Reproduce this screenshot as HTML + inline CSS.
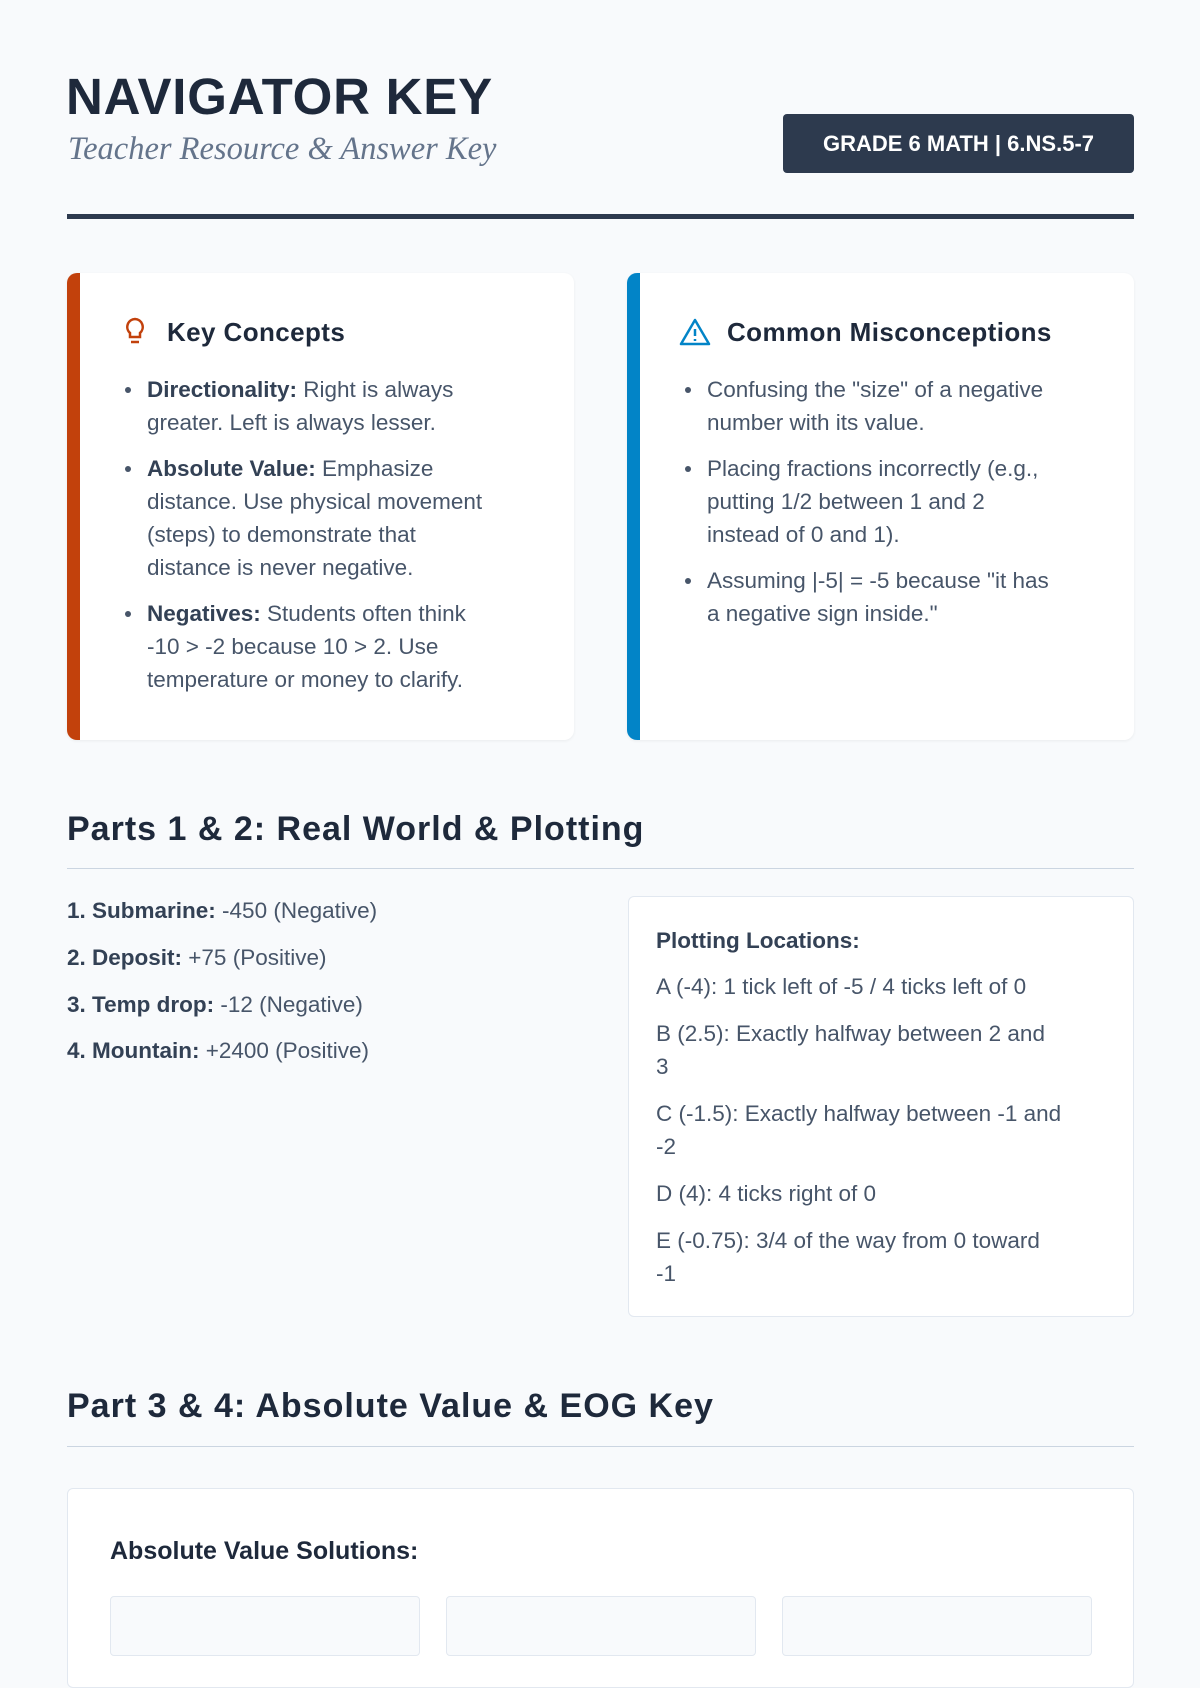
<!DOCTYPE html>
<html><head><meta charset="utf-8"><style>
*{margin:0;padding:0;box-sizing:border-box}
body{width:1200px;height:1600px;overflow:hidden;background:#f8fafc;font-family:"Liberation Sans",sans-serif;color:#475569;position:relative}
.abs{position:absolute}
h1{position:absolute;left:66px;top:67px;font-size:51px;font-weight:bold;color:#1e293b;letter-spacing:0.8px}
.sub{left:68px;top:131px;font-family:"Liberation Serif",serif;font-style:italic;font-size:32.5px;color:#64748b}
.badge{left:783px;top:114px;width:351px;height:59px;background:#2d3a4e;border-radius:4px;color:#fff;font-weight:bold;font-size:22px;text-align:center;line-height:59px}
.rule{left:67px;top:214px;width:1067px;height:5px;background:#2d3a4e}
.card{top:273px;width:507px;height:467px;background:#fff;border-radius:10px;box-shadow:0 1px 3px rgba(0,0,0,.06)}
.card .bar{position:absolute;left:0;top:0;bottom:0;width:13px;border-radius:10px 0 0 10px}
.card h3{position:absolute;left:100px;top:44px;font-size:26px;color:#1e293b;font-weight:bold;letter-spacing:0.4px}
.card .ic{position:absolute;left:54px;top:43px}
.card ul{position:absolute;left:80px;top:100px;width:420px;font-size:22.5px;line-height:33px;padding-left:0;white-space:nowrap}
.card li{margin-bottom:13px;margin-left:0;list-style:none;position:relative}
.card li:before{content:"";position:absolute;left:-22px;top:14px;width:6px;height:6px;border-radius:50%;background:#475569}
b{color:#334155}
.sec{left:67px;font-size:34px;font-weight:bold;color:#1e293b;letter-spacing:1px}
.line{left:67px;width:1067px;height:1px;background:#cbd5e1}
.ll{left:67px;font-size:22.5px}
.box{left:628px;top:896px;width:506px;height:421px;background:#fff;border:1px solid #e2e8f0;border-radius:6px}
.box div{position:absolute;left:27px;width:470px;font-size:22.5px;line-height:32.5px;white-space:nowrap}
</style></head><body>
<h1>NAVIGATOR KEY</h1>
<div class="abs sub">Teacher Resource &amp; Answer Key</div>
<div class="abs badge">GRADE 6 MATH | 6.NS.5-7</div>
<div class="abs rule"></div>

<div class="abs card" style="left:67px"><div class="bar" style="background:#c2410c"></div>
<svg class="ic" width="28" height="32" viewBox="0 0 28 32" fill="none" stroke="#c2410c" stroke-width="2.5"><path d="M14 3a8 8 0 0 0-5 14v4h10v-4a8 8 0 0 0-5-14z"/><path d="M10 26h8"/></svg>
<h3>Key Concepts</h3>
<ul>
<li><b>Directionality:</b> Right is always<br>greater. Left is always lesser.</li>
<li><b>Absolute Value:</b> Emphasize<br>distance. Use physical movement<br>(steps) to demonstrate that<br>distance is never negative.</li>
<li><b>Negatives:</b> Students often think<br>-10 &gt; -2 because 10 &gt; 2. Use<br>temperature or money to clarify.</li>
</ul></div>

<div class="abs card" style="left:627px"><div class="bar" style="background:#0284c7"></div>
<svg class="ic" width="32" height="32" viewBox="0 0 32 32" fill="none" stroke="#0284c7" stroke-width="2.5" style="left:52px"><path d="M16 4L2 28h28z" stroke-linejoin="round"/><path d="M16 13v7M16 23v2"/></svg>
<h3>Common Misconceptions</h3>
<ul>
<li>Confusing the "size" of a negative<br>number with its value.</li>
<li>Placing fractions incorrectly (e.g.,<br>putting 1/2 between 1 and 2<br>instead of 0 and 1).</li>
<li>Assuming |-5| = -5 because "it has<br>a negative sign inside."</li>
</ul></div>

<div class="abs sec" style="top:810px">Parts 1 &amp; 2: Real World &amp; Plotting</div>
<div class="abs line" style="top:868px"></div>
<div class="abs ll" style="top:898px"><b>1. Submarine:</b> -450 (Negative)</div>
<div class="abs ll" style="top:945px"><b>2. Deposit:</b> +75 (Positive)</div>
<div class="abs ll" style="top:992px"><b>3. Temp drop:</b> -12 (Negative)</div>
<div class="abs ll" style="top:1038px"><b>4. Mountain:</b> +2400 (Positive)</div>

<div class="abs box">
<div style="top:28px"><b>Plotting Locations:</b></div>
<div style="top:74px">A (-4): 1 tick left of -5 / 4 ticks left of 0</div>
<div style="top:121px">B (2.5): Exactly halfway between 2 and<br>3</div>
<div style="top:201px">C (-1.5): Exactly halfway between -1 and<br>-2</div>
<div style="top:281px">D (4): 4 ticks right of 0</div>
<div style="top:328px">E (-0.75): 3/4 of the way from 0 toward<br>-1</div>
</div>

<div class="abs sec" style="top:1387px">Part 3 &amp; 4: Absolute Value &amp; EOG Key</div>
<div class="abs line" style="top:1446px"></div>
<div class="abs" style="left:67px;top:1488px;width:1067px;height:200px;background:#fff;border:1px solid #e2e8f0;border-radius:6px">
<div class="abs" style="left:42px;top:48px;font-size:25px;font-weight:bold;color:#1e293b">Absolute Value Solutions:</div>
<div class="abs" style="left:42px;top:107px;width:310px;height:60px;background:#f8fafc;border:1px solid #e2e8f0;border-radius:4px"></div>
<div class="abs" style="left:378px;top:107px;width:310px;height:60px;background:#f8fafc;border:1px solid #e2e8f0;border-radius:4px"></div>
<div class="abs" style="left:714px;top:107px;width:310px;height:60px;background:#f8fafc;border:1px solid #e2e8f0;border-radius:4px"></div>
</div>
</body></html>
